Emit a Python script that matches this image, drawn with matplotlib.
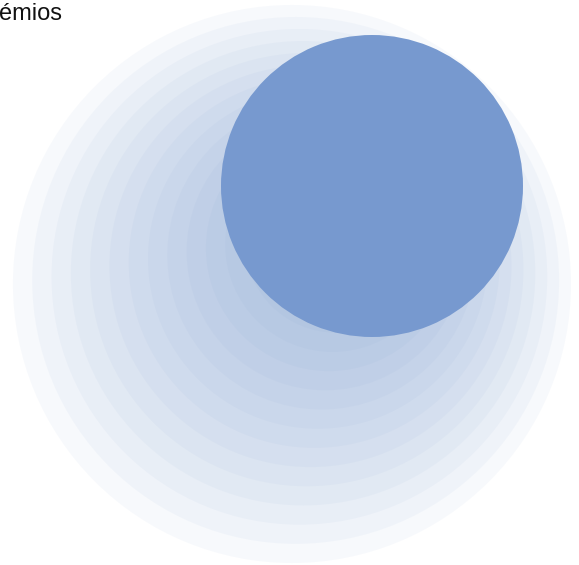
#!/usr/bin/env python3
"""
Single-slice pie with a stepped soft shadow behind it.
"""

import matplotlib
matplotlib.use("Agg")
import matplotlib.pyplot as plt
from matplotlib.patches import Circle

# data
labels = ["Prémios"]
values = [100]
title_text = "émios"
slice_color = "#7799cf"

# shadow look (in pie-radius units): outermost ring, then each ring
# inward shrinks and drifts up-right
n_rings = 13
outer_center = (-0.530, -0.649)
outer_radius = 1.848
ring_drift = (0.0245, 0.0238)
ring_shrink = 0.1033
ring_alpha = 0.056

W, H = 579, 565
dpi = 100
# where the pie sits on the canvas, pixels
cx_px, cy_px, r_px = 372, 186, 151


def main():
    fig = plt.figure(figsize=(W / dpi, H / dpi), dpi=dpi)
    ax = fig.add_axes([0, 0, 1, 1])

    ax.pie(values, colors=[slice_color], startangle=90, counterclock=False,
           radius=1, center=(0, 0), frame=True,
           wedgeprops=dict(linewidth=0, zorder=20))

    # stacked translucent circles for the shadow
    for k in range(n_rings):
        c = (outer_center[0] + ring_drift[0] * k,
             outer_center[1] + ring_drift[1] * k)
        ax.add_patch(Circle(c, outer_radius - ring_shrink * k,
                            facecolor=slice_color, edgecolor="none",
                            alpha=ring_alpha, zorder=1))

    ax.set_xlim(-cx_px / r_px, (W - cx_px) / r_px)
    ax.set_ylim((cy_px - H) / r_px, cy_px / r_px)
    ax.set_aspect("auto")
    ax.axis("off")

    fig.text(-1.5 / W, 1 - 20 / H, title_text, ha="left", va="baseline",
             fontsize=17, family="Liberation Sans", color="#111111")

    fig.savefig("out.png", dpi=dpi, facecolor="white")
    plt.close(fig)


if __name__ == "__main__":
    main()
